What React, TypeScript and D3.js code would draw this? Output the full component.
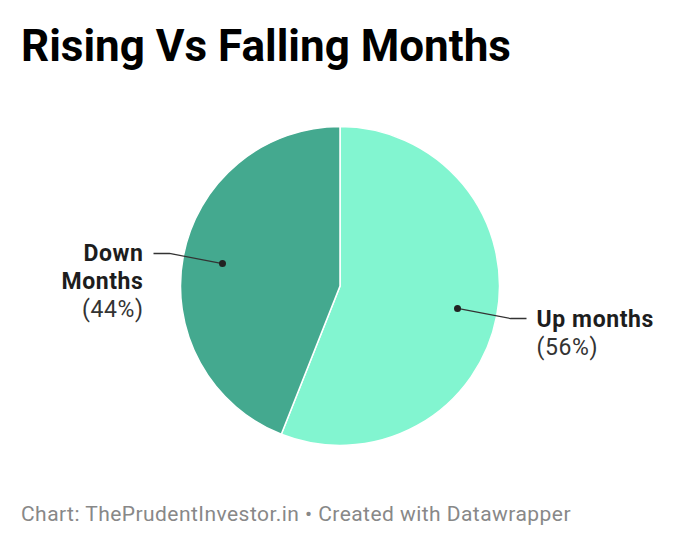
import React, { useEffect, useRef } from "react";
import * as d3 from "d3";

// slice data, clockwise from 12 o'clock
const labels = ["Up months", "Down Months"];
const labelLines = [["Up months"], ["Down", "Months"]];
const values = [56, 44];
const colors = ["#82f5d0", "#44a98f"];

const title = "Rising Vs Falling Months";
const footer = "Chart: ThePrudentInvestor.in • Created with Datawrapper";

const width = 680;
const height = 548;

const App: React.FC = () => {
  const svgRef = useRef<SVGSVGElement>(null);

  useEffect(() => {
    if (!svgRef.current) return;
    const root = d3.select(svgRef.current);
    root.selectAll("*").remove();

    const font = "Roboto, 'Noto Sans', sans-serif";
    const cx = 340;
    const cy = 286;
    const radius = 159.5;

    root
      .append("text")
      .attr("x", 21)
      .attr("y", 61)
      .attr("font-family", font)
      .attr("font-weight", 700)
      .attr("font-size", 44)
      .attr("fill", "#000")
      .text(title);

    root
      .append("text")
      .attr("x", 21)
      .attr("y", 521)
      .attr("font-family", font)
      .attr("font-size", 21)
      .attr("letter-spacing", 0.45)
      .attr("fill", "#888")
      .text(footer);

    const data = labels.map((l, i) => ({ label: l, lines: labelLines[i], value: values[i], color: colors[i] }));
    type D = (typeof data)[number];

    const pie = d3
      .pie<D>()
      .value((d) => d.value)
      .sort(null);
    const arcs = pie(data);

    const arc = d3.arc<d3.PieArcDatum<D>>().innerRadius(0).outerRadius(radius);
    const dotArc = d3
      .arc<d3.PieArcDatum<D>>()
      .innerRadius(radius * 0.75)
      .outerRadius(radius * 0.75);

    const g = root.append("g").attr("transform", `translate(${cx},${cy})`);

    g.selectAll("path")
      .data(arcs)
      .join("path")
      .attr("d", arc)
      .attr("fill", (d) => d.data.color)
      .attr("stroke", "#fff")
      .attr("stroke-width", 1.5);

    arcs.forEach((d) => {
      const [dx, dy] = dotArc.centroid(d);
      const side = dx >= 0 ? 1 : -1;
      const ex = side * (radius + 11);
      const ey = (dy / dx) * ex;
      const hx = ex + side * 16;

      g.append("polyline")
        .attr("points", [[dx, dy], [ex, ey], [hx, ey]].map((p) => p.join(",")).join(" "))
        .attr("fill", "none")
        .attr("stroke", "#333")
        .attr("stroke-width", 1.3);

      g.append("circle").attr("cx", dx).attr("cy", dy).attr("r", 3.5).attr("fill", "#222");

      const t = g
        .append("text")
        .attr("x", hx + side * 10)
        .attr("y", ey + 8)
        .attr("text-anchor", side > 0 ? "start" : "end")
        .attr("font-family", font)
        .attr("font-size", 23)
        .attr("letter-spacing", 0.6)
        .attr("fill", "#1d1d1d");

      d.data.lines.forEach((line, i) => {
        t.append("tspan")
          .attr("x", hx + side * 10)
          .attr("dy", i === 0 ? 0 : 27.5)
          .attr("font-weight", 700)
          .text(line);
      });
      t.append("tspan")
        .attr("x", hx + side * 10)
        .attr("dy", 28)
        .attr("font-weight", 400)
        .attr("fill", "#333")
        .text(`(${d.data.value}%)`);
    });
  }, []);

  return (
    <svg
      ref={svgRef}
      width={width}
      height={height}
      style={{ position: "absolute", left: 0, top: 0, background: "#fff" }}
    />
  );
};

export default App;
